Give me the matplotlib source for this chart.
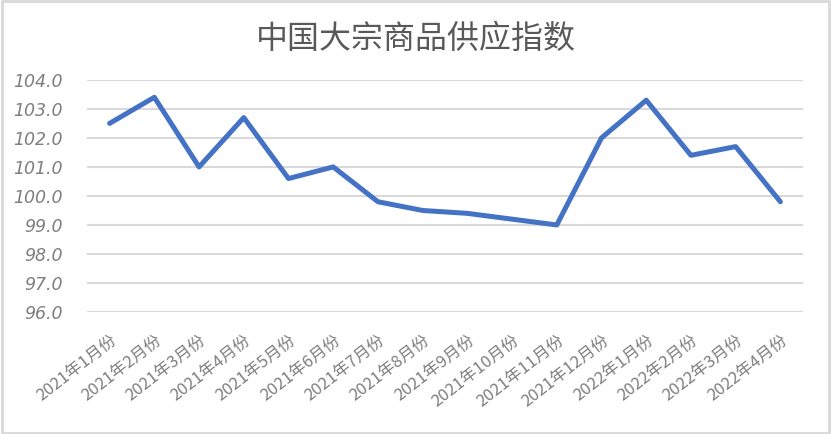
import matplotlib

matplotlib.use("Agg")
import matplotlib.pyplot as plt
import numpy as np

# 中国大宗商品供应指数, monthly, 2021-01 .. 2022-04
months = [
    "2021年1月份", "2021年2月份", "2021年3月份", "2021年4月份",
    "2021年5月份", "2021年6月份", "2021年7月份", "2021年8月份",
    "2021年9月份", "2021年10月份", "2021年11月份", "2021年12月份",
    "2022年1月份", "2022年2月份", "2022年3月份", "2022年4月份",
]
supply_index = [
    102.5, 103.4, 101.0, 102.7, 100.6, 101.0, 99.8, 99.5,
    99.4, 99.2, 99.0, 102.0, 103.3, 101.4, 101.7, 99.8,
]
y_ticks = [96.0, 97.0, 98.0, 99.0, 100.0, 101.0, 102.0, 103.0, 104.0]

LINE_COLOR = "#4472C4"
GRID_COLOR = "#d9d9d9"
TEXT_COLOR = "#595959"
CJK = ["Noto Sans CJK SC", "DejaVu Sans"]

plt.rcParams["font.family"] = CJK

fig = plt.figure(figsize=(8.31, 4.34), dpi=100)
ax = fig.add_axes([0.105, 0.281, 0.861, 0.535])

xs = np.arange(len(months))
ax.plot(xs, supply_index, color=LINE_COLOR, lw=3.6, solid_joinstyle="round",
        solid_capstyle="round", zorder=3)

ax.set_xlim(-0.5, len(months) - 0.5)
ax.set_ylim(y_ticks[0], y_ticks[-1])
ax.set_yticks(y_ticks)
ax.set_yticklabels([f"{v:.1f}" for v in y_ticks], color="#7f7f7f",
                   fontsize=12.5, style="italic", family="DejaVu Sans")
ax.set_xticks(xs)
ax.set_xticklabels(months, rotation=38, ha="right", rotation_mode="anchor",
                   color="#7f7f7f", fontsize=12)
ax.tick_params(axis="both", length=0)
ax.tick_params(axis="x", pad=14)
ax.tick_params(axis="y", pad=18)

ax.grid(axis="y", color=GRID_COLOR, lw=1.5)
ax.set_axisbelow(True)
for s in ax.spines.values():
    s.set_visible(False)

fig.text(0.5, 0.91, "中国大宗商品供应指数", ha="center", va="center",
         fontsize=23, color=TEXT_COLOR)

# light frame around the whole chart
fig.patches.append(plt.Rectangle((0.002, 0.003), 0.996, 0.994,
                                 transform=fig.transFigure, fill=False,
                                 edgecolor=GRID_COLOR, lw=2))

fig.savefig("out.png", dpi=100)
